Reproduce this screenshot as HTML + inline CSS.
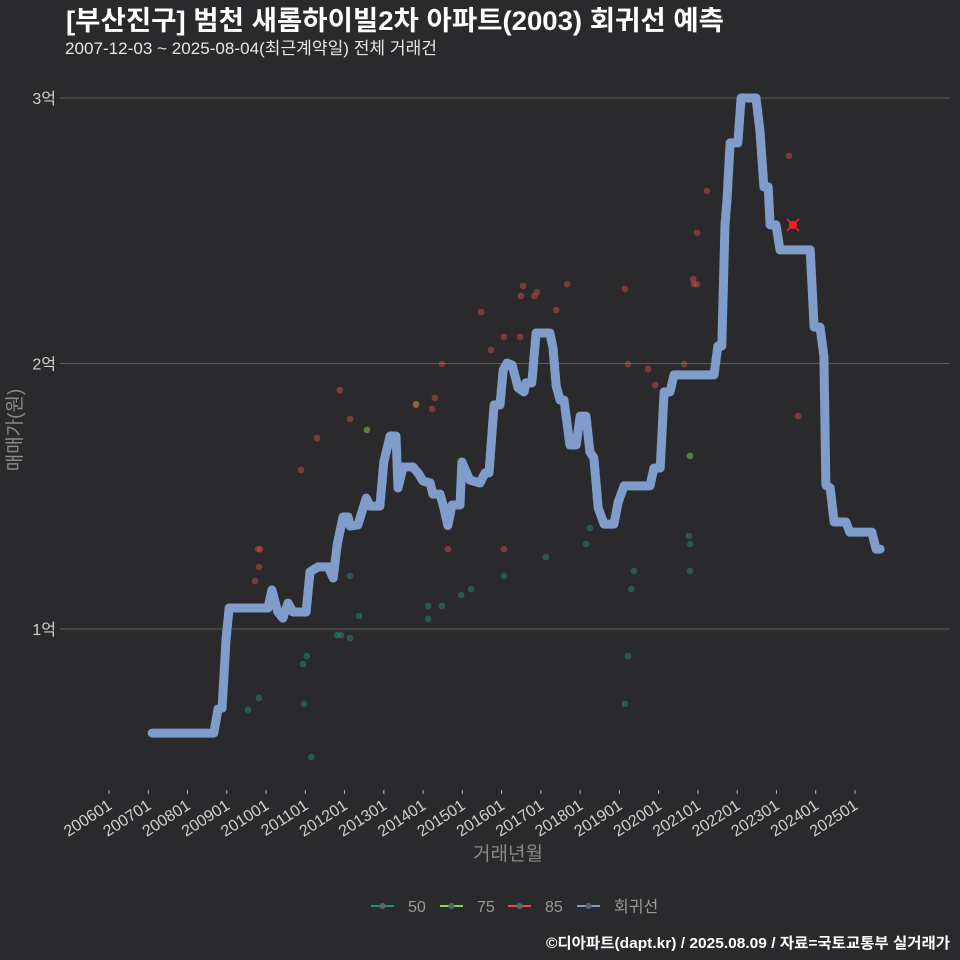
<!DOCTYPE html>
<html><head><meta charset="utf-8"><style>
html,body{margin:0;padding:0;background:#2a2a2c;}
svg{display:block;font-family:"Liberation Sans","Noto Sans CJK KR",sans-serif;}
</style></head><body>
<svg id="chart" width="960" height="960" viewBox="0 0 960 960" xmlns="http://www.w3.org/2000/svg">
<rect width="960" height="960" fill="#2a2a2c"/>
<text x="66" y="30" fill="#ffffff" font-size="27" font-weight="bold" textLength="658" lengthAdjust="spacingAndGlyphs">[부산진구] 범천 새롬하이빌2차 아파트(2003) 회귀선 예측</text>
<text x="65" y="54" fill="#e6e6e6" font-size="17" textLength="372" lengthAdjust="spacingAndGlyphs">2007-12-03 ~ 2025-08-04(최근계약일) 전체 거래건</text>
<g id="grid"></g><g id="yticks"></g><g id="xticks"></g>
<g id="line"></g><g id="points"></g>
<text transform="translate(21,430) rotate(-90)" text-anchor="middle" fill="#8a8a8a" font-size="19">매매가(원)</text>
<text x="508" y="860" text-anchor="middle" fill="#8a8a8a" font-size="19">거래년월</text>
<g id="legend"></g>
<text x="950" y="948" text-anchor="end" fill="#ffffff" font-size="15" font-weight="bold" textLength="404" lengthAdjust="spacingAndGlyphs">©디아파트(dapt.kr) / 2025.08.09 / 자료=국토교통부 실거래가</text>
</svg>
<script>
const yTicks=[1,2,3];
const yTickLabels=["1억","2억","3억"];
const xTickYears=[2006,2007,2008,2009,2010,2011,2012,2013,2014,2015,2016,2017,2018,2019,2020,2021,2022,2023,2024,2025];
const xTickLabels=["200601","200701","200801","200901","201001","201101","201201","201301","201401","201501","201601","201701","201801","201901","202001","202101","202201","202301","202401","202501"];
const lineDates=[2007.10,2008.67,2008.78,2008.88,2008.98,2009.06,2010.05,2010.15,2010.30,2010.43,2010.56,2010.69,2011.02,2011.12,2011.32,2011.58,2011.71,2011.81,2011.96,2012.09,2012.14,2012.34,2012.55,2012.65,2012.90,2013.00,2013.16,2013.31,2013.36,2013.49,2013.74,2013.87,2014.00,2014.18,2014.25,2014.43,2014.53,2014.63,2014.74,2014.94,2014.99,2015.19,2015.45,2015.58,2015.68,2015.81,2015.96,2016.04,2016.14,2016.27,2016.42,2016.57,2016.62,2016.77,2016.88,2017.23,2017.31,2017.39,2017.49,2017.59,2017.74,2017.90,2018.00,2018.15,2018.25,2018.35,2018.46,2018.61,2018.86,2018.97,2019.12,2019.78,2019.88,2020.04,2020.14,2020.29,2020.39,2021.41,2021.51,2021.61,2021.69,2021.74,2021.82,2022.02,2022.10,2022.48,2022.58,2022.68,2022.79,2022.84,2022.99,2023.09,2023.86,2023.96,2024.11,2024.21,2024.26,2024.37,2024.47,2024.77,2024.87,2025.43,2025.54,2025.64];
const lineValues=[0.608,0.608,0.699,0.702,0.959,1.079,1.079,1.147,1.064,1.041,1.098,1.064,1.064,1.215,1.234,1.234,1.192,1.316,1.422,1.422,1.388,1.392,1.493,1.463,1.463,1.629,1.727,1.727,1.531,1.61,1.61,1.588,1.557,1.55,1.508,1.508,1.456,1.39,1.467,1.467,1.629,1.561,1.55,1.588,1.588,1.844,1.844,1.976,2.002,1.994,1.908,1.893,1.927,1.927,2.115,2.115,2.058,1.915,1.862,1.862,1.693,1.693,1.802,1.802,1.667,1.644,1.456,1.395,1.395,1.478,1.539,1.539,1.606,1.606,1.893,1.893,1.957,1.957,2.066,2.066,2.522,2.616,2.831,2.831,3.0,3.0,2.879,2.665,2.665,2.522,2.522,2.428,2.428,2.137,2.137,2.028,1.542,1.531,1.403,1.403,1.365,1.365,1.301,1.301];
const p85Dates=[2009.80,2009.82,2009.72,2009.85,2010.89,2011.30,2011.88,2012.14,2013.82,2014.23,2014.30,2014.48,2014.63,2015.48,2015.73,2016.06,2016.06,2016.47,2016.49,2016.55,2016.83,2016.90,2017.39,2017.67,2019.14,2019.22,2019.73,2019.91,2020.65,2020.88,2020.90,2020.98,2020.98,2021.23,2023.32,2023.55];
const p85Values=[1.301,1.234,1.181,1.30,1.599,1.719,1.90,1.791,1.844,1.829,1.87,1.998,1.301,2.194,2.051,1.301,2.10,2.10,2.254,2.292,2.254,2.269,2.202,2.299,2.281,1.998,1.979,1.919,1.998,2.318,2.299,2.299,2.492,2.65,2.782,1.802];
const p50Dates=[2009.54,2009.82,2010.94,2011.04,2010.97,2011.15,2011.81,2011.91,2012.14,2012.14,2012.37,2014.13,2014.13,2014.48,2014.97,2015.22,2016.06,2017.13,2018.15,2018.25,2019.14,2019.22,2019.30,2019.37,2020.77,2020.80,2020.80];
const p50Values=[0.695,0.74,0.868,0.898,0.718,0.518,0.977,0.977,1.20,0.966,1.049,1.087,1.038,1.087,1.128,1.151,1.20,1.271,1.32,1.38,0.718,0.898,1.151,1.218,1.35,1.32,1.218];
const p75Dates=[2012.57,2013.82,2020.80];
const p75Values=[1.75,1.847,1.652];
const predDates=[2023.42];
const predValues=[2.522];

const NS="http://www.w3.org/2000/svg";
function xS(d){return 109+(d-2006)*39.26;}
function yS(v){return 629-(v-1)*265.5;}
function mk(tag,attrs,parent){const e=document.createElementNS(NS,tag);for(const k in attrs)e.setAttribute(k,attrs[k]);parent.appendChild(e);return e;}
const grid=document.getElementById('grid'),yt=document.getElementById('yticks'),xt=document.getElementById('xticks');
yTicks.forEach((v,i)=>{
  const l=mk('line',{x1:60,x2:950,y1:yS(v),y2:yS(v),stroke:'#5e5e5e','stroke-width':1},grid);
  
  
  const t=mk('text',{x:56,y:yS(v)+6,'text-anchor':'end',fill:'#d0d0d0','font-size':16},yt);
  t.textContent=yTickLabels[i];
  
  
});
xTickYears.forEach((d,i)=>{
  const x=xS(d);
  const l=mk('line',{x1:x,x2:x,y1:790,y2:794,stroke:'#bbbbbb','stroke-width':1},xt);
  
  
  const t=mk('text',{transform:`translate(${x+4},${808}) rotate(-33)`,'text-anchor':'end',fill:'#d0d0d0','font-size':16},xt);
  t.textContent=xTickLabels[i];
  
  
});
const lg=document.getElementById('line');
const pts=lineDates.map((d,i)=>xS(d).toFixed(1)+','+yS(lineValues[i]).toFixed(1)).join(' ');
const pl=mk('polyline',{points:pts,fill:'none',stroke:'#7f9ccb','stroke-width':9,'stroke-linejoin':'round','stroke-linecap':'round'},lg);


const pg=document.getElementById('points');
function drawPts(ds,vs,col,name){ds.forEach((d,i)=>{
  const c=mk('circle',{cx:xS(d),cy:yS(vs[i]),r:3.3,fill:col,'fill-opacity':0.5},pg);
  
  
});}
drawPts(p50Dates,p50Values,'#2a8a70','point-50');
drawPts(p75Dates,p75Values,'#8ad060','point-75');
drawPts(p85Dates,p85Values,'#d04a4a','point-85');
predDates.forEach((d,i)=>{
  const x=xS(d),y=yS(predValues[i]);
  const g=mk('g',{},pg);
  
  
  mk('circle',{cx:x,cy:y,r:4,fill:'#ff2020'},g);
  mk('path',{d:`M${x-6},${y-6}L${x+6},${y+6}M${x-6},${y+6}L${x+6},${y-6}`,stroke:'#ff2020','stroke-width':1.5},g);
});
const leg=document.getElementById('legend');
const items=[['50','#2a8a80',371],['75','#8ad060',440],['85','#e05050',508],['회귀선','#7f9ccb',577]];
items.forEach(it=>{
  const g=mk('g',{},leg);
  
  
  mk('line',{x1:it[2],x2:it[2]+23,y1:906,y2:906,stroke:it[1],'stroke-width':2},g);
  mk('circle',{cx:it[2]+11.5,cy:906,r:3,fill:'#556666'},g);
  const t=mk('text',{x:it[2]+37,y:912,fill:'#999999','font-size':16},g);
  t.textContent=it[0];
});
</script>
</body></html>
